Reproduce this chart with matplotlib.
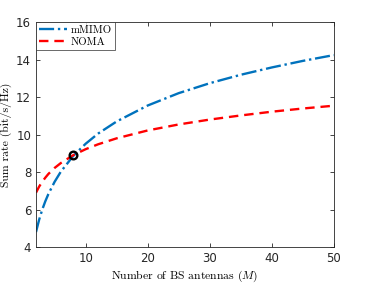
import numpy as np
import matplotlib.pyplot as plt

# values
M = [2, 2.5, 3, 3.5, 4, 5, 6, 8, 10, 12, 15, 20, 25, 30, 35, 40, 45, 50]
rate_mmimo = [4.80, 5.45, 5.99, 6.44, 6.83, 7.48, 8.02, 8.86, 9.51, 10.05, 10.70, 11.55, 12.21, 12.74, 13.19, 13.58, 13.93, 14.24]
rate_noma = [6.90, 7.22, 7.48, 7.70, 7.90, 8.22, 8.48, 8.90, 9.22, 9.48, 9.80, 10.22, 10.54, 10.80, 11.02, 11.22, 11.39, 11.54]
cross_M, cross_rate = 8, 8.9

plt.rcParams['mathtext.fontset'] = 'cm'
serif = {'family': 'cmr10', 'size': 8.4}

fig = plt.figure(figsize=(3.71, 2.83), dpi=100)
ax = fig.add_axes([0.097, 0.127, 0.803, 0.795])

ax.plot(M, rate_mmimo, color='#0072BD', linestyle='-.', linewidth=1.7, label='mMIMO')
ax.plot(M, rate_noma, color='#FF0000', linestyle='--', linewidth=1.7, dashes=(4, 2.5), label='NOMA')
ax.plot(cross_M, cross_rate, 'o', markersize=5.5, markerfacecolor='none',
        markeredgecolor='black', markeredgewidth=1.7)

ax.set_xlim(2, 50)
ax.set_ylim(4, 16)
ax.set_xticks([10, 20, 30, 40, 50])
ax.set_yticks([4, 6, 8, 10, 12, 14, 16])
ax.tick_params(direction='in', top=True, right=True, labelsize=8.5, length=3,
               width=0.6, colors='#262626')
for sp in ax.spines.values():
    sp.set_color('#262626')
    sp.set_linewidth(0.6)

ax.set_xlabel('Number of BS antennas ($M$)', fontdict=serif, labelpad=3)
ax.set_ylabel('Sum rate (bit/s/Hz)', fontdict=serif, labelpad=3)

leg = ax.legend(loc='upper left', prop={'family': 'cmr10', 'size': 7.8},
                borderaxespad=0, fancybox=False, edgecolor='#262626',
                handlelength=2.6, borderpad=0.3, labelspacing=0.2, handletextpad=0.3)
leg.get_frame().set_linewidth(0.6)

fig.savefig('out.png', dpi=100)
